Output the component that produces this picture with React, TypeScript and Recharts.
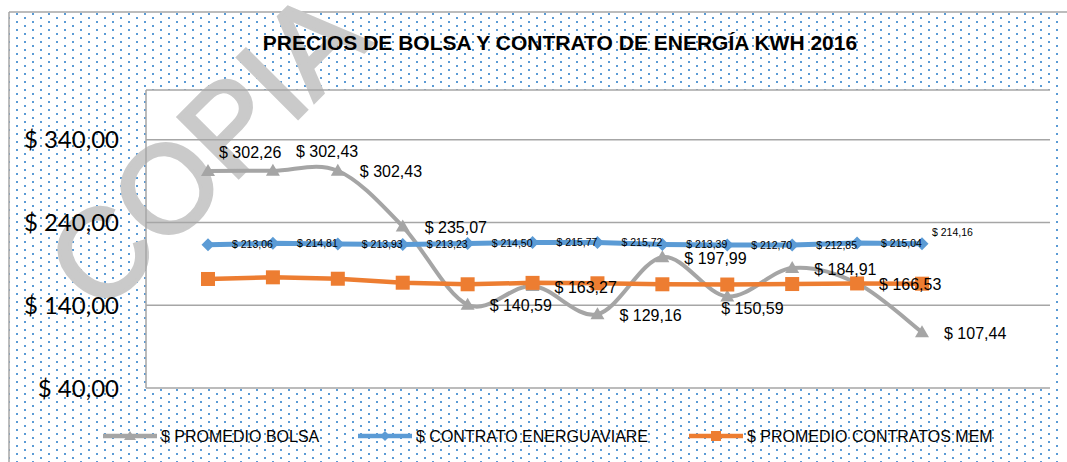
import React from 'react';
import { LineChart, Line, XAxis, YAxis, CartesianGrid } from 'recharts';

// ---------- data ----------
const categorias = ['Ene', 'Feb', 'Mar', 'Abr', 'May', 'Jun', 'Jul', 'Ago', 'Sep', 'Oct', 'Nov', 'Dic'];
const promedioBolsa = [302.26, 302.43, 302.43, 235.07, 140.59, 163.27, 129.16, 197.99, 150.59, 184.91, 166.53, 107.44];
const contratoEnerguaviare = [213.06, 214.81, 213.93, 213.23, 214.5, 215.77, 215.72, 213.39, 212.7, 212.85, 215.04, 214.16];
const promedioContratosMem = [171.7, 173.7, 172.0, 167.2, 165.3, 167.0, 166.5, 165.3, 165.0, 165.6, 166.3, 166.0];
const yTicks = [40, 140, 240, 340];
const titulo = 'PRECIOS DE BOLSA Y CONTRATO DE ENERGÍA KWH 2016';
const nombresSeries = ['$ PROMEDIO BOLSA', '$ CONTRATO ENERGUAVIARE', '$ PROMEDIO CONTRATOS MEM'];
const marcaAgua = 'COPIA';

const data = categorias.map((c, i) => ({
  mes: c,
  bolsa: promedioBolsa[i],
  contrato: contratoEnerguaviare[i],
  mem: promedioContratosMem[i],
}));

// ---------- styles ----------
const GRAY = '#a5a5a5';
const BLUE = '#5b9bd5';
const ORANGE = '#ed7d31';
const AXIS = '#a6a6a6';
const ARIAL = '"Liberation Sans", Arial, sans-serif';

const fmt = (v: number) => `$ ${v.toFixed(2).replace('.', ',')}`;

// Excel-like smoothed line (Catmull-Rom Bezier)
const excelSmooth = (context: any) => {
  let pts: number[][] = [];
  return {
    areaStart() {},
    areaEnd() {},
    lineStart() {
      pts = [];
    },
    point(x: number, y: number) {
      pts.push([+x, +y]);
    },
    lineEnd() {
      if (!pts.length) return;
      context.moveTo(pts[0][0], pts[0][1]);
      for (let i = 0; i < pts.length - 1; i++) {
        const p0 = pts[i - 1] || pts[i];
        const p1 = pts[i];
        const p2 = pts[i + 1];
        const p3 = pts[i + 2] || p2;
        const c1x = p1[0] + (p2[0] - p0[0]) / 6;
        const c1y = p1[1] + (p2[1] - p0[1]) / 6;
        const c2x = p2[0] - (p3[0] - p1[0]) / 6;
        const c2y = p2[1] - (p3[1] - p1[1]) / 6;
        context.bezierCurveTo(c1x, c1y, c2x, c2y, p2[0], p2[1]);
      }
    },
  };
};

const TriangleDot = (props: any) => {
  const { cx, cy, index } = props;
  if (cx == null || cy == null) return <g key={`t${index}`} />;
  return (
    <polygon
      key={`t${index}`}
      points={`${cx - 7},${cy + 5} ${cx + 7},${cy + 5} ${cx},${cy - 7}`}
      fill={GRAY}
    />
  );
};
const DiamondDot = (props: any) => {
  const { cx, cy, index } = props;
  if (cx == null || cy == null) return <g key={`d${index}`} />;
  return (
    <polygon
      key={`d${index}`}
      points={`${cx - 6.5},${cy} ${cx},${cy - 6.5} ${cx + 6.5},${cy} ${cx},${cy + 6.5}`}
      fill={BLUE}
    />
  );
};
const SquareDot = (props: any) => {
  const { cx, cy, index } = props;
  if (cx == null || cy == null) return <g key={`s${index}`} />;
  return <rect key={`s${index}`} x={cx - 7} y={cy - 7} width={14} height={14} fill={ORANGE} />;
};

const bolsaLabelPlacement = (i: number) => {
  if (i === 0) return { dx: 11, dy: -19 };
  if (i === 1) return { dx: 23, dy: -19 };
  if (i === 8) return { dx: -6, dy: 12 };
  return { dx: 22, dy: 1 };
};
const BolsaLabel = (props: any) => {
  const { x, y, value, index } = props;
  if (x == null || y == null || value == null) return null;
  const p = bolsaLabelPlacement(index);
  return (
    <text
      key={`bl${index}`}
      x={x + p.dx}
      y={y + p.dy}
      dy="0.35em"
      fontSize={16}
      fontFamily={ARIAL}
      fill="#000"
      textAnchor="start"
    >
      {fmt(value)}
    </text>
  );
};
const ContratoLabel = (props: any) => {
  const { x, y, value, index } = props;
  if (x == null || y == null || value == null) return null;
  const last = index === contratoEnerguaviare.length - 1;
  return (
    <text
      key={`cl${index}`}
      x={x + (last ? 10 : 24)}
      y={y + (last ? -12 : 0)}
      dy="0.35em"
      fontSize={10.5}
      fontFamily={ARIAL}
      fill="#000"
      textAnchor="start"
    >
      {fmt(value)}
    </text>
  );
};

const legendItems = [
  { name: nombresSeries[0], color: GRAY, marker: 'tri', x: 103 },
  { name: nombresSeries[1], color: BLUE, marker: 'dia', x: 358 },
  { name: nombresSeries[2], color: ORANGE, marker: 'sq', x: 689 },
];

const Background = () => (
  <svg width={1067} height={462} style={{ position: 'absolute', left: 0, top: 0 }}>
    <defs>
      <pattern id="dots" patternUnits="userSpaceOnUse" width={16} height={8}>
        <rect x={0} y={5} width={2} height={2} fill={BLUE} />
        <rect x={8} y={1} width={2} height={2} fill={BLUE} />
      </pattern>
    </defs>
    <rect x={0} y={0} width={1067} height={462} fill="#fff" />
    <rect x={9} y={12} width={1052} height={460} fill="url(#dots)" />
    <line x1={9} y1={12} x2={1067} y2={12} stroke={AXIS} strokeWidth={1.5} />
    <line x1={9} y1={12} x2={9} y2={462} stroke={AXIS} strokeWidth={1.5} />
    <rect x={146} y={90} width={904} height={298} fill="#fff" />
    <text
      x={100}
      y={316}
      transform="rotate(-45 100 316)"
      fontFamily={ARIAL}
      fontSize={124}
      fill="#cacaca"
      stroke="#cacaca"
      strokeWidth={3.5}
    >
      {marcaAgua}
    </text>
    <text
      x={560}
      y={50}
      textAnchor="middle"
      fontFamily={ARIAL}
      fontWeight="bold"
      fontSize={21}
      fill="#000"
    >
      {titulo}
    </text>
    {legendItems.map((it) => (
      <g key={it.name}>
        <line x1={it.x} y1={436} x2={it.x + 54} y2={436} stroke={it.color} strokeWidth={4.5} />
        {it.marker === 'tri' && (
          <polygon
            points={`${it.x + 21},${436 + 4} ${it.x + 33},${436 + 4} ${it.x + 27},${436 - 5}`}
            fill={it.color}
          />
        )}
        {it.marker === 'dia' && (
          <polygon
            points={`${it.x + 22},436 ${it.x + 27},431 ${it.x + 32},436 ${it.x + 27},441`}
            fill={it.color}
          />
        )}
        {it.marker === 'sq' && <rect x={it.x + 22} y={431} width={10} height={10} fill={it.color} />}
        <text x={it.x + 58} y={436} dy="0.35em" fontFamily={ARIAL} fontSize={16} fill="#000">
          {it.name}
        </text>
      </g>
    ))}
  </svg>
);

export default function App() {
  return (
    <div style={{ position: 'absolute', left: 0, top: 0, width: 1067, height: 462, overflow: 'hidden' }}>
      <Background />
      <div style={{ position: 'absolute', left: 0, top: 0 }}>
        <LineChart width={1067} height={462} data={data} margin={{ top: 90, right: 17, bottom: 74, left: 0 }}>
          <CartesianGrid horizontal vertical={false} stroke={AXIS} strokeWidth={1.5} />
          <XAxis
            dataKey="mes"
            height={0}
            tick={false}
            tickLine={false}
            axisLine={{ stroke: AXIS, strokeWidth: 1.5 }}
            padding={{ left: 62, right: 128 }}
          />
          <YAxis
            width={146}
            domain={[40, 400]}
            ticks={yTicks}
            tickFormatter={fmt}
            tickLine={false}
            tickSize={0}
            tickMargin={27}
            axisLine={{ stroke: AXIS, strokeWidth: 1.5 }}
            tick={{ fontSize: 24, fontFamily: 'Lato, sans-serif', fill: '#000' }}
            allowDataOverflow
          />
          <Line
            dataKey="bolsa"
            name={nombresSeries[0]}
            stroke={GRAY}
            strokeWidth={4}
            type={excelSmooth as any}
            dot={TriangleDot}
            activeDot={false}
            isAnimationActive={false}
          />
          <Line
            dataKey="contrato"
            name={nombresSeries[1]}
            stroke={BLUE}
            strokeWidth={5}
            type="linear"
            dot={DiamondDot}
            activeDot={false}
            label={ContratoLabel}
            isAnimationActive={false}
          />
          <Line
            dataKey="mem"
            name={nombresSeries[2]}
            stroke={ORANGE}
            strokeWidth={4.5}
            type="linear"
            dot={SquareDot}
            activeDot={false}
            isAnimationActive={false}
          />
          <Line
            dataKey="bolsa"
            stroke="none"
            strokeWidth={0}
            dot={false}
            activeDot={false}
            legendType="none"
            label={BolsaLabel}
            isAnimationActive={false}
          />
        </LineChart>
      </div>
    </div>
  );
}
